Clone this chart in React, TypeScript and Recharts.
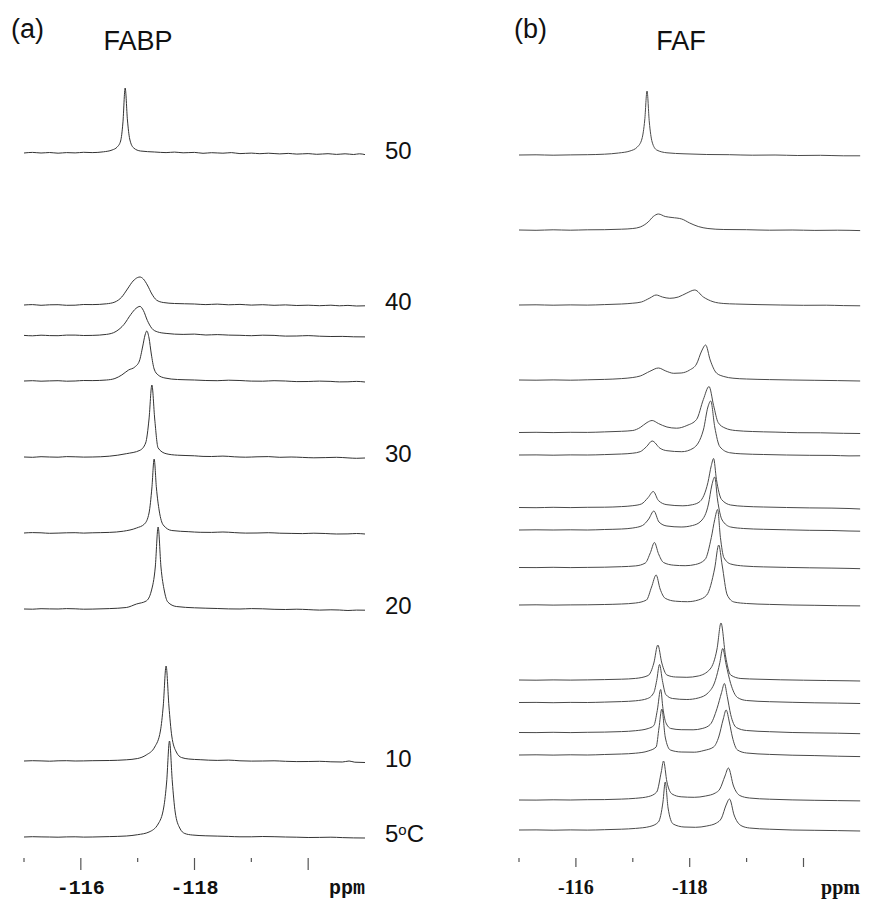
import React from 'react';
import { LineChart, Line, XAxis, YAxis, LabelList } from 'recharts';

type Pt = [number, number];

// (a) FABP, 19F spectra: [ppm, intensity]
const fabp50: Pt[] = [[-115, 0], [-115.15, 0.6], [-115.3, 0], [-115.45, 0.5], [-115.6, -0.2], [-115.75, 0.4], [-115.9, 0.1], [-116.05, 0.7], [-116.2, 0.4], [-116.4, 1.2], [-116.55, 3], [-116.64, 6], [-116.7, 12], [-116.74, 30], [-116.78, 65], [-116.82, 33], [-116.86, 14], [-116.93, 5], [-117.05, 2], [-117.3, 1], [-117.5, 0.4], [-117.65, 0.9], [-117.8, 0.2], [-118.0, 0.6], [-118.15, -0.3], [-118.3, 0.3], [-118.5, -0.2], [-118.65, 0.4], [-118.8, -0.6], [-119.0, -0.1], [-119.15, -0.7], [-119.3, -0.2], [-119.5, -0.9], [-119.65, -0.4], [-119.8, -1.1], [-120.0, -0.6], [-120.15, -1.3], [-120.35, -0.7], [-120.5, -1.4], [-120.65, -0.8], [-120.8, -1.5], [-120.9, -0.8], [-121, -1.6]];
const fabp40: Pt[] = [[-115, 0], [-115.15, 0.4], [-115.3, -0.3], [-115.45, 0.2], [-115.6, 0.3], [-115.75, -0.3], [-115.9, -0.2], [-116.05, 0.5], [-116.2, 0.4], [-116.45, 1.2], [-116.6, 3], [-116.72, 8], [-116.82, 16], [-116.92, 24], [-117.0, 27.5], [-117.04, 28], [-117.1, 26], [-117.17, 20], [-117.25, 11], [-117.33, 5], [-117.45, 2.5], [-117.65, 1.5], [-118.0, 1.0], [-118.2, 0.4], [-118.4, 0.9], [-118.6, 0.2], [-118.8, 0.6], [-119.0, -0.1], [-119.2, 0.3], [-119.4, -0.3], [-119.6, 0.1], [-119.8, -0.5], [-120.0, -0.2], [-120.2, -0.7], [-120.4, -0.2], [-120.55, -0.8], [-120.7, -0.4], [-120.85, -1], [-121, -0.8]];
const fabp38: Pt[] = [[-115, 0], [-115.15, -0.4], [-115.3, 0.2], [-115.45, -0.2], [-115.6, -0.3], [-115.75, 0.3], [-115.9, 0.3], [-116.05, -0.1], [-116.2, 0], [-116.45, 1.0], [-116.62, 4], [-116.76, 11], [-116.88, 21], [-116.97, 27], [-117.04, 29], [-117.1, 25], [-117.17, 15], [-117.25, 7], [-117.35, 3.5], [-117.5, 2], [-117.8, 1], [-118.0, 1.3], [-118.2, 0.4], [-118.4, 0.8], [-118.6, 0.3], [-118.8, 0.1], [-119.0, -0.3], [-119.2, 0.2], [-119.4, 0], [-119.6, -0.7], [-119.8, -0.6], [-120.0, -0.2], [-120.2, -0.8], [-120.4, -1.1], [-120.6, -1], [-120.8, -1.4], [-121, -1.5]];
const fabp35: Pt[] = [[-115, 0], [-115.15, 0.3], [-115.3, -0.2], [-115.45, 0.1], [-115.6, 0.3], [-115.75, -0.2], [-115.9, 0], [-116.05, 0.5], [-116.2, 0.4], [-116.45, 1.0], [-116.6, 2.5], [-116.72, 6], [-116.84, 11], [-116.95, 14], [-117.03, 20], [-117.09, 35], [-117.13, 46], [-117.16, 50], [-117.2, 43], [-117.24, 27], [-117.29, 12], [-117.36, 6], [-117.48, 3], [-117.7, 1.5], [-118.0, 1], [-118.2, 0.5], [-118.4, 0.3], [-118.6, 0.8], [-118.8, 0.5], [-119.0, -0.1], [-119.2, -0.2], [-119.4, 0.3], [-119.6, 0], [-119.8, -0.6], [-120.0, -0.5], [-120.2, -0.1], [-120.4, -0.4], [-120.55, -0.9], [-120.7, -0.8], [-120.85, -0.4], [-121, -1]];
const fabp30: Pt[] = [[-115, 0], [-115.15, -0.3], [-115.3, 0.3], [-115.45, 0], [-115.6, -0.2], [-115.75, 0.4], [-115.9, 0.2], [-116.05, -0.1], [-116.2, 0], [-116.5, 0.8], [-116.8, 3.3], [-117.04, 6.7], [-117.14, 14], [-117.2, 38], [-117.25, 72], [-117.3, 38], [-117.36, 9], [-117.5, 3.3], [-117.7, 1.8], [-118.0, 1.2], [-118.15, 0.6], [-118.3, 0.5], [-118.5, 0.9], [-118.7, 0.2], [-118.9, -0.2], [-119.1, 0.2], [-119.3, 0.4], [-119.5, -0.3], [-119.7, 0], [-119.9, -0.4], [-120.1, -0.8], [-120.3, -0.6], [-120.5, -0.3], [-120.7, -0.9], [-120.85, -1.3], [-121, -1]];
const fabp25: Pt[] = [[-115, 0], [-115.15, 0.4], [-115.3, 0.2], [-115.45, -0.3], [-115.6, -0.1], [-115.75, 0.2], [-115.9, 0.3], [-116.05, -0.1], [-116.2, 0.2], [-116.5, 0.6], [-116.75, 1.8], [-116.98, 5], [-117.12, 9], [-117.2, 20], [-117.25, 45], [-117.29, 74], [-117.33, 45], [-117.38, 22], [-117.45, 8], [-117.6, 2.5], [-117.9, 1.3], [-118.1, 0.7], [-118.3, 0.6], [-118.5, 1], [-118.7, 0.4], [-118.9, -0.1], [-119.1, 0], [-119.3, 0.3], [-119.5, -0.2], [-119.7, -0.4], [-119.9, -0.6], [-120.1, -0.2], [-120.3, -0.5], [-120.5, -1], [-120.7, -0.9], [-120.85, -0.5], [-121, -1]];
const fabp20: Pt[] = [[-115, 0], [-115.15, -0.2], [-115.3, 0.3], [-115.45, 0.1], [-115.6, 0], [-115.75, 0.4], [-115.9, 0.2], [-116.05, -0.2], [-116.2, -0.1], [-116.5, 0.4], [-116.8, 1.5], [-116.98, 5], [-117.15, 8], [-117.24, 18], [-117.31, 42], [-117.36, 82], [-117.41, 42], [-117.47, 18], [-117.53, 7], [-117.68, 2.5], [-118.0, 1.2], [-118.2, 0.8], [-118.4, 0.5], [-118.6, 0.1], [-118.8, 0], [-119.0, 0.4], [-119.2, 0.2], [-119.4, -0.3], [-119.6, -0.5], [-119.8, -0.2], [-120.0, -0.6], [-120.2, -1.1], [-120.4, -0.8], [-120.55, -1], [-120.7, -1.5], [-120.85, -1.1], [-121, -1.2]];
const fabp10: Pt[] = [[-115, 0], [-115.15, 0.3], [-115.3, 0.1], [-115.45, -0.2], [-115.6, 0.2], [-115.75, 0.3], [-115.9, 0], [-116.05, 0.1], [-116.2, 0.3], [-116.5, 0.5], [-116.8, 1.2], [-117.0, 2.5], [-117.15, 6], [-117.3, 14], [-117.4, 30], [-117.45, 55], [-117.5, 95], [-117.55, 55], [-117.6, 25], [-117.68, 9], [-117.77, 3.5], [-117.9, 2], [-118.1, 1.3], [-118.4, 0.6], [-118.6, 0.9], [-118.8, 0.2], [-119.0, -0.1], [-119.2, 0], [-119.4, 0.2], [-119.6, -0.3], [-119.8, -0.6], [-120.0, -0.5], [-120.2, -0.3], [-120.4, -0.8], [-120.6, -1], [-120.72, 0], [-120.82, -1.2], [-121, -1.5]];
const fabp5: Pt[] = [[-115, 0], [-115.15, 0.3], [-115.3, 0.1], [-115.45, 0], [-115.6, -0.2], [-115.75, 0.1], [-115.9, 0.2], [-116.05, -0.1], [-116.2, 0], [-116.5, 0.4], [-116.8, 1], [-117.0, 2.3], [-117.2, 5], [-117.36, 13], [-117.46, 30], [-117.51, 55], [-117.56, 96], [-117.61, 55], [-117.66, 25], [-117.74, 9], [-117.83, 3.5], [-117.96, 2], [-118.2, 1.2], [-118.4, 0.9], [-118.6, 0.6], [-118.8, 0.2], [-119.0, 0.2], [-119.2, 0.5], [-119.4, 0.3], [-119.6, 0], [-119.8, -0.2], [-120.0, -0.5], [-120.2, -0.4], [-120.4, -0.2], [-120.6, -0.6], [-120.8, -0.9], [-121, -1]];

const fabpTemps = [50, 40, 38, 35, 30, 25, 20, 10, 5];
const fabpLabels = ['50', '40', '', '', '30', '', '20', '10', '5oC'];
const fabpTraces = [fabp50, fabp40, fabp38, fabp35, fabp30, fabp25, fabp20, fabp10, fabp5];

// (b) FAF
const faf50: Pt[] = [[-115, 0], [-115.3, 0.2], [-115.6, -0.2], [-115.9, 0.1], [-116.2, 0.3], [-116.5, 0.8], [-116.75, 2], [-116.95, 4], [-117.08, 8], [-117.16, 16], [-117.21, 35], [-117.25, 64], [-117.29, 33], [-117.34, 13], [-117.42, 5], [-117.6, 2.2], [-117.9, 1.2], [-118.3, 0.5], [-118.7, 0.3], [-119.1, -0.2], [-119.5, 0], [-119.9, -0.5], [-120.3, -0.3], [-120.7, -0.8], [-121, -0.8]];
const faf45: Pt[] = [[-115, 0], [-115.3, -0.3], [-115.6, 0.2], [-115.9, -0.2], [-116.2, 0.2], [-116.5, 0.3], [-116.8, 0.8], [-117.0, 1.5], [-117.13, 3], [-117.27, 8], [-117.36, 13.5], [-117.45, 16], [-117.57, 13.5], [-117.69, 12.5], [-117.86, 11], [-118.0, 7], [-118.15, 3.5], [-118.32, 1.5], [-118.6, 0.5], [-119.0, 0.3], [-119.4, -0.2], [-119.8, 0], [-120.2, -0.4], [-120.6, -0.2], [-121, -0.6]];
const faf40: Pt[] = [[-115, 0], [-115.3, 0.2], [-115.6, -0.2], [-115.9, 0.1], [-116.2, -0.1], [-116.5, 0.4], [-116.8, 1], [-117.0, 1.8], [-117.15, 3], [-117.3, 7], [-117.41, 10], [-117.52, 8], [-117.65, 6.7], [-117.8, 8], [-117.95, 12], [-118.09, 15], [-118.24, 8], [-118.41, 3.3], [-118.6, 1.5], [-118.8, 1], [-119.2, 0.4], [-119.6, 0], [-120.0, -0.3], [-120.4, -0.2], [-120.7, -0.6], [-121, -0.8]];
const faf35: Pt[] = [[-115, 0], [-115.3, -0.2], [-115.6, 0.1], [-115.9, -0.2], [-116.2, 0.2], [-116.5, 0.6], [-116.8, 1.4], [-117.0, 2.5], [-117.13, 4], [-117.3, 8.7], [-117.45, 12], [-117.58, 9], [-117.72, 6.7], [-117.85, 7], [-118.0, 10], [-118.12, 16], [-118.21, 29], [-118.28, 35], [-118.36, 20], [-118.47, 7], [-118.6, 3.5], [-118.76, 1.8], [-119.0, 1], [-119.4, 0.4], [-119.8, 0], [-120.2, -0.3], [-120.6, -0.6], [-121, -1]];
const faf31: Pt[] = [[-115, 0], [-115.3, 0.2], [-115.6, -0.1], [-115.9, 0.2], [-116.2, 0.1], [-116.5, 0.6], [-116.8, 1.2], [-117.0, 2], [-117.13, 5], [-117.25, 10], [-117.34, 12], [-117.45, 9], [-117.6, 5.5], [-117.77, 4.3], [-117.95, 7], [-118.12, 13], [-118.24, 33], [-118.34, 46], [-118.42, 27], [-118.5, 10], [-118.62, 4.5], [-118.8, 2], [-119.1, 1], [-119.5, 0.4], [-119.9, -0.2], [-120.3, -0.3], [-120.7, -0.8], [-121, -1]];
const faf30: Pt[] = [[-115, 0], [-115.3, 0.1], [-115.6, -0.2], [-115.9, 0.1], [-116.2, 0], [-116.5, 0.4], [-116.8, 1], [-117.0, 1.8], [-117.13, 3.3], [-117.24, 8.3], [-117.34, 14], [-117.48, 6.7], [-117.6, 4.3], [-117.86, 3.3], [-118.06, 6.7], [-118.24, 25], [-118.32, 48], [-118.37, 54], [-118.44, 28], [-118.53, 8.3], [-118.7, 2.3], [-118.9, 1.2], [-119.3, 0.5], [-119.7, 0], [-120.1, -0.3], [-120.5, -0.4], [-120.8, -0.9], [-121, -0.8]];
const faf26: Pt[] = [[-115, 0], [-115.3, -0.2], [-115.6, 0.2], [-115.9, -0.1], [-116.2, 0.2], [-116.5, 0.3], [-116.8, 0.9], [-117.0, 1.8], [-117.15, 3.5], [-117.27, 10], [-117.36, 16], [-117.45, 7], [-117.6, 2.8], [-117.88, 1.7], [-118.05, 2.8], [-118.18, 6], [-118.32, 25], [-118.38, 42], [-118.42, 49], [-118.47, 28], [-118.56, 8], [-118.72, 2.5], [-118.95, 1.2], [-119.3, 0.5], [-119.7, 0], [-120.1, -0.4], [-120.5, -0.6], [-120.8, -1], [-121, -1.5]];
const faf25: Pt[] = [[-115, 0], [-115.3, 0.2], [-115.6, 0], [-115.9, 0.2], [-116.2, 0], [-116.5, 0.5], [-116.8, 1], [-117.0, 2], [-117.17, 4.5], [-117.28, 11], [-117.37, 19], [-117.46, 8], [-117.6, 4], [-117.85, 3], [-118.05, 4.5], [-118.2, 9], [-118.33, 26], [-118.39, 45], [-118.44, 53], [-118.49, 30], [-118.57, 10], [-118.72, 3], [-118.95, 1.5], [-119.3, 0.7], [-119.7, 0.2], [-120.1, -0.3], [-120.5, -0.5], [-120.8, -1], [-121, -1.2]];
const faf22: Pt[] = [[-115, 0], [-115.3, -0.1], [-115.6, 0.2], [-115.9, -0.1], [-116.2, 0.1], [-116.5, 0.3], [-116.8, 0.8], [-117.05, 1.6], [-117.22, 4.5], [-117.31, 15], [-117.38, 25], [-117.45, 14], [-117.54, 5], [-117.72, 2.3], [-117.92, 1.8], [-118.1, 3], [-118.27, 8], [-118.38, 30], [-118.44, 48], [-118.49, 58], [-118.54, 30], [-118.6, 10], [-118.72, 3.5], [-118.95, 1.5], [-119.3, 0.6], [-119.7, 0.1], [-120.1, -0.3], [-120.5, -0.6], [-120.8, -0.9], [-121, -1.2]];
const faf20: Pt[] = [[-115, 0], [-115.3, 0.2], [-115.6, -0.1], [-115.9, 0.1], [-116.2, 0.2], [-116.5, 0.5], [-116.8, 1], [-117.05, 2], [-117.24, 5], [-117.33, 18], [-117.41, 30], [-117.48, 16], [-117.57, 6.7], [-117.75, 3.8], [-117.96, 3.3], [-118.15, 5], [-118.3, 10], [-118.44, 37], [-118.51, 60], [-118.57, 40], [-118.66, 10], [-118.78, 3], [-119.0, 1.5], [-119.4, 0.6], [-119.8, 0], [-120.2, -0.3], [-120.6, -0.7], [-121, -0.9]];
const faf15: Pt[] = [[-115, 0], [-115.3, -0.2], [-115.6, 0.1], [-115.9, -0.1], [-116.2, 0.1], [-116.5, 0.4], [-116.8, 0.8], [-117.05, 1.6], [-117.27, 4.5], [-117.37, 17], [-117.44, 35], [-117.51, 17], [-117.6, 5], [-117.75, 3], [-117.95, 2.7], [-118.15, 4], [-118.36, 11], [-118.48, 31], [-118.55, 57], [-118.63, 24], [-118.72, 5], [-118.9, 1.5], [-119.2, 0.8], [-119.6, 0.2], [-120.0, -0.2], [-120.4, -0.5], [-120.8, -0.8], [-121, -1]];
const faf13: Pt[] = [[-115, 0], [-115.3, 0.1], [-115.6, -0.2], [-115.9, 0.1], [-116.2, 0], [-116.5, 0.4], [-116.8, 0.9], [-117.05, 1.7], [-117.26, 4], [-117.37, 10], [-117.42, 22], [-117.47, 38], [-117.52, 22], [-117.58, 8], [-117.7, 4], [-117.95, 3], [-118.15, 4.5], [-118.33, 10], [-118.45, 22], [-118.53, 40], [-118.58, 54], [-118.64, 38], [-118.72, 19], [-118.84, 5], [-119.0, 2], [-119.4, 0.8], [-119.8, 0.2], [-120.2, -0.3], [-120.6, -0.6], [-121, -1]];
const faf11: Pt[] = [[-115, 0], [-115.3, -0.1], [-115.6, 0.2], [-115.9, -0.1], [-116.2, 0.2], [-116.5, 0.4], [-116.8, 0.9], [-117.05, 1.8], [-117.27, 4], [-117.37, 7], [-117.43, 22], [-117.49, 43], [-117.53, 24], [-117.58, 10], [-117.67, 4], [-117.85, 2.8], [-118.06, 2.7], [-118.22, 4], [-118.36, 8], [-118.48, 24], [-118.56, 40], [-118.61, 49], [-118.66, 36], [-118.72, 18], [-118.82, 5], [-119.0, 2], [-119.4, 0.8], [-119.8, 0], [-120.2, -0.4], [-120.6, -0.7], [-121, -1.2]];
const faf10: Pt[] = [[-115, 0], [-115.3, 0.2], [-115.6, -0.1], [-115.9, 0.2], [-116.2, 0], [-116.5, 0.5], [-116.8, 1], [-117.05, 1.8], [-117.27, 4], [-117.41, 8], [-117.46, 27], [-117.51, 46], [-117.57, 18], [-117.66, 5], [-117.85, 3], [-118.08, 2.8], [-118.25, 4.5], [-118.42, 8], [-118.51, 18], [-118.59, 36], [-118.64, 45], [-118.7, 32], [-118.75, 18], [-118.84, 5], [-119.0, 2], [-119.4, 0.6], [-119.8, -0.2], [-120.2, -0.6], [-120.6, -1.2], [-121, -1.6]];
const faf7: Pt[] = [[-115, 0], [-115.3, -0.1], [-115.6, 0.2], [-115.9, 0], [-116.2, 0.3], [-116.5, 0.4], [-116.8, 0.9], [-117.05, 1.7], [-117.28, 3.5], [-117.42, 8], [-117.5, 28], [-117.54, 39], [-117.6, 18], [-117.69, 6], [-117.85, 3.2], [-118.08, 2.7], [-118.28, 4], [-118.45, 7], [-118.53, 11], [-118.62, 24], [-118.68, 32], [-118.77, 14], [-118.88, 4.5], [-119.05, 2], [-119.4, 0.8], [-119.8, 0.1], [-120.2, -0.3], [-120.6, -0.6], [-121, -0.9]];
const faf5: Pt[] = [[-115, 0], [-115.3, 0.1], [-115.6, -0.2], [-115.9, 0.1], [-116.2, -0.1], [-116.5, 0.3], [-116.8, 0.8], [-117.05, 1.6], [-117.3, 3.5], [-117.45, 8], [-117.53, 28], [-117.57, 48], [-117.62, 22], [-117.71, 6], [-117.9, 3], [-118.1, 2.7], [-118.3, 4], [-118.47, 7], [-118.56, 12], [-118.64, 25], [-118.7, 31], [-118.78, 15], [-118.9, 4.5], [-119.05, 2], [-119.4, 0.8], [-119.8, 0], [-120.2, -0.3], [-120.6, -0.6], [-121, -1]];

const fafTemps = [50, 45, 40, 35, 31.5, 30, 26.5, 25, 22.5, 20, 15, 13.5, 11.5, 10, 7, 5];
const fafTraces = [faf50, faf45, faf40, faf35, faf31, faf30, faf26, faf25, faf22, faf20, faf15, faf13, faf11, faf10, faf7, faf5];

const ppmTicks = [-115, -116, -117, -118, -119, -120];
const ppmTickLabels = ['', '-116', '', '-118', '', ''];

const W = 882;
const H = 921;
const AXIS_H = 63;

const stack = (traces: Pt[][], temps: number[], gap: number) =>
  traces.map((pts, i) => pts.map(([ppm, y]) => ({ ppm, v: temps[i] * gap + y })));

const makeTick = (majorLen: number, font: React.SVGProps<SVGTextElement>) => (props: any) => {
  const { x, y, payload } = props;
  const i = ppmTicks.indexOf(payload.value);
  const major = Math.abs(payload.value) % 2 === 0;
  return (
    <g>
      <line x1={x} x2={x} y1={y} y2={y + (major ? majorLen : 4)} stroke="#555" strokeWidth={1.2} />
      {ppmTickLabels[i] ? (
        <text x={x} y={y + 36} textAnchor="middle" fill="#111" {...font}>
          {ppmTickLabels[i]}
        </text>
      ) : null}
    </g>
  );
};

const tempLabel = (text: string, last: number) => (props: any) => {
  const { index } = props;
  if (index !== last || !text) return null;
  const x = (props.x ?? props.viewBox?.x) + 20;
  const y = (props.y ?? props.viewBox?.y) + 4;
  const style = { fontFamily: '"Liberation Sans", Arial, sans-serif', fontSize: 24, fill: '#111' };
  if (text.endsWith('oC')) {
    return (
      <text x={x} y={y} {...style}>
        {text.slice(0, -2)}
        <tspan fontSize={15} dy={-7}>o</tspan>
        <tspan dy={7}>C</tspan>
      </text>
    );
  }
  return (
    <text x={x} y={y} {...style}>
      {text}
    </text>
  );
};

const Panel = ({ series, labels, yDomain, margin, width, majorLen, font, stroke }: any) => (
  <LineChart width={width} height={H} margin={margin}>
    <XAxis
      dataKey="ppm"
      type="number"
      domain={[-121, -115]}
      reversed
      allowDataOverflow
      ticks={ppmTicks}
      interval={0}
      height={AXIS_H}
      axisLine={false}
      tickLine={false}
      tickSize={0}
      tickMargin={0}
      tick={makeTick(majorLen, font)}
    />
    <YAxis hide type="number" domain={yDomain} allowDataOverflow />
    {series.map((data: any[], i: number) => (
      <Line
        key={i}
        data={data}
        dataKey="v"
        type="monotone"
        stroke={stroke}
        strokeWidth={1}
        dot={false}
        activeDot={false}
        isAnimationActive={false}
      >
        {labels ? <LabelList dataKey="v" content={tempLabel(labels[i], data.length - 1)} /> : null}
      </Line>
    ))}
  </LineChart>
);

export default function App() {
  const left = stack(fabpTraces, fabpTemps, 15.2);
  const right = stack(fafTraces, fafTemps, 15);
  const sans = { fontFamily: '"Liberation Sans", Arial, sans-serif', fill: '#111' };
  const monoFont = { fontFamily: '"Liberation Mono", "Courier New", monospace', fontWeight: 700, fontSize: 20 };
  const serifFont = { fontFamily: '"Liberation Serif", "Times New Roman", serif', fontWeight: 700, fontSize: 20 };

  return (
    <div style={{ position: 'absolute', left: 0, top: 0, width: W, height: H, background: '#fff' }}>
      <div style={{ position: 'absolute', left: 0, top: 0 }}>
        <Panel
          series={left}
          labels={fabpLabels}
          yDomain={[55, 913]}
          width={440}
          margin={{ top: 0, right: 75, bottom: 0, left: 24 }}
          majorLen={12}
          font={monoFont}
          stroke="#333"
        />
      </div>
      <div style={{ position: 'absolute', left: 440, top: 0 }}>
        <Panel
          series={right}
          yDomain={[47, 905]}
          width={442}
          margin={{ top: 0, right: 21.6, bottom: 0, left: 79 }}
          majorLen={9}
          font={serifFont}
          stroke="#4a4a4a"
        />
      </div>
      <svg width={W} height={H} style={{ position: 'absolute', left: 0, top: 0, pointerEvents: 'none' }}>
        <text x={11} y={38} fontSize={27} {...sans}>(a)</text>
        <text x={138} y={50} fontSize={27} textAnchor="middle" {...sans}>FABP</text>
        <text x={514} y={38} fontSize={27} {...sans}>(b)</text>
        <text x={681} y={50} fontSize={27} textAnchor="middle" {...sans}>FAF</text>
        <text x={365} y={894} textAnchor="end" fill="#111" {...monoFont}>ppm</text>
        <text x={860} y={894} textAnchor="end" fill="#111" {...serifFont}>ppm</text>
      </svg>
    </div>
  );
}
